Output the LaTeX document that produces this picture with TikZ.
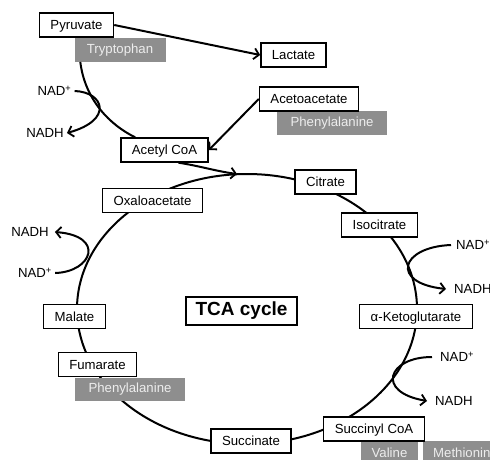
\documentclass[tikz,border=0pt]{standalone}
\usepackage{fontspec}
\setmainfont{Liberation Sans}
\usetikzlibrary{arrows.meta,calc}
\definecolor{grbox}{HTML}{8E8E8E}
\definecolor{grtxt}{HTML}{EDEDED}
\tikzset{
  metab/.style={draw=black, line width=1.4pt, fill=white, inner xsep=11pt, inner ysep=0pt, minimum height=24pt, text depth=0pt},
  aa/.style={fill=grbox, text=grtxt, inner xsep=0pt, inner ysep=0pt, minimum height=23.5pt},
  lbl/.style={inner sep=0pt},
  conn/.style={line width=2pt, draw=black},
  arr/.style={conn, -{Straight Barb[length=5pt,width=11pt,line width=1.8pt]}},
}
\begin{document}
\begin{tikzpicture}[x=1pt,y=-1pt,font=\fontsize{13.2}{15}\selectfont]
\useasboundingbox (0,0) rectangle (490,460);
\clip (0,0) rectangle (490,460);
% the cycle
\draw[conn] (247,309) ellipse [x radius=170pt, y radius=135pt];
\coordinate (jn) at (237,174);
% nodes
\node[aa, minimum width=91pt] (tryp) at (120,50) {Tryptophan};
\node[metab] (pyr) at (76.5,25) {Pyruvate};
\node[metab] (lac) at (293.5,55) {Lactate};
\node[aa, minimum width=110pt] (phe1) at (332,123) {Phenylalanine};
\node[metab] (aceto) at (309,99) {Acetoacetate};
\node[metab] (acoa) at (164.5,150) {Acetyl CoA};
\node[metab] (cit) at (325.5,182) {Citrate};
\node[metab] (oxa) at (152.5,200.5) {Oxaloacetate};
\node[metab] (iso) at (379.5,225) {Isocitrate};
\node[draw=black, line width=2.4pt, fill=white, minimum width=111pt, minimum height=28pt, inner sep=0pt, font=\fontsize{19}{21}\selectfont\bfseries] (tca) at (241.5,311) {TCA cycle};
\node[metab] (mal) at (74.5,316.5) {Malate};
\node[metab] (akg) at (416,316.5) {α-Ketoglutarate};
\node[aa, minimum width=110pt] (phe2) at (130,389.5) {Phenylalanine};
\node[metab] (fum) at (97.5,364.5) {Fumarate};
\node[metab] (succ) at (251,441) {Succinate};
\node[aa, minimum width=57pt] (val) at (389.5,453) {Valine};
\node[aa, text width=80pt, inner xsep=10pt, align=left, anchor=west] (met) at (423,453) {Methionine};
\node[metab] (sca) at (374,429) {Succinyl CoA};
% cofactor labels
\node[lbl] (nad1) at (54.5,91) {NAD\textsuperscript{+}};
\node[lbl] (nadh1) at (45,133) {NADH};
\node[lbl] (nadh2) at (30,232) {NADH};
\node[lbl] (nad2) at (35,273) {NAD\textsuperscript{+}};
\node[lbl, anchor=west] (nad3) at (456,245) {NAD\textsuperscript{+}};
\node[lbl, anchor=west] (nadh3) at (454,289) {NADH};
\node[lbl, anchor=west] (nad4) at (440,357) {NAD\textsuperscript{+}};
\node[lbl, anchor=west] (nadh4) at (435,401) {NADH};
% connectors
\draw[arr] (pyr.east) -- (lac.west);
\draw[arr] (aceto.west) -- (acoa.east);
\draw[conn] ([xshift=6pt]tryp.south west) .. controls (85,100) and (110,125) .. ([xshift=15pt]acoa.north west);
\draw[arr] ([xshift=14pt]acoa.south) .. controls (200,166) and (215,171) .. (jn);
\draw[arr] ([xshift=3pt]nad1.east) .. controls (104,92) and (114,120) .. ([xshift=3pt]nadh1.east);
\draw[arr] ([xshift=3pt]nad2.east) .. controls (92,272) and (106,236) .. ([xshift=6pt]nadh2.east);
\draw[arr] ([xshift=-5pt]nad3.west) .. controls (400,247) and (390,283) .. ([xshift=-8pt]nadh3.west);
\draw[arr] ([xshift=-8pt]nad4.west) .. controls (388,357) and (375,392) .. ([xshift=-8pt]nadh4.west);
\end{tikzpicture}
\end{document}
